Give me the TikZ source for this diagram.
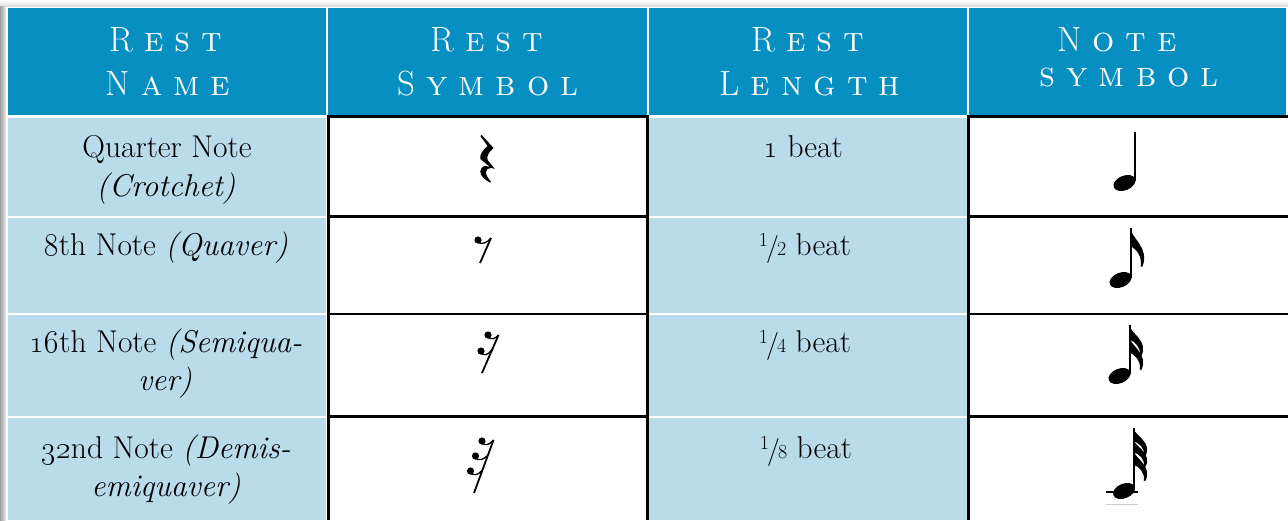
\documentclass[tikz,border=0pt]{standalone}
\usepackage{fix-cm}
\definecolor{hdrblue}{RGB}{6,143,192}
\definecolor{cellblue}{RGB}{185,219,234}
\newcommand\hsp{\kern 11pt}
\newcommand\frc[2]{\raisebox{9pt}{\fontsize{20}{20}\selectfont #1}\kern-2pt\raisebox{-1.5pt}{\fontsize{28}{28}\selectfont /}\kern-2pt{\fontsize{20}{20}\selectfont #2}}
\newcommand\osn[1]{\oldstylenums{#1}}
\tikzset{
  body/.style={font=\fontsize{31.5}{38}\selectfont, anchor=base, inner sep=0pt},
  hdr/.style={font=\fontsize{35}{35}\selectfont, text=white, anchor=base, inner sep=0pt},
  grid/.style={line width=2.2pt, black},
}
\newcommand\flag[3]{\begin{scope}[shift={(#1,#2)},yscale=#3]\fill (0,0) .. controls (1,10) and (20,20) .. (12,39) -- (10.5,38) .. controls (12,28) and (6,21) .. (0,18) -- cycle;\end{scope}}
\newcommand\nhead[2]{\fill[rotate around={22:(#1,#2)}] (#1,#2) ellipse [x radius=11.5, y radius=7.3];}
\begin{document}
\begin{tikzpicture}[x=1pt,y=-1pt]
\useasboundingbox (0,0) rectangle (1288,520);
\fill[white] (0,0) rectangle (1288,520);
% shadows
\shade[top color=white, bottom color=gray!25] (0,0) rectangle (1288,6);
\shade[left color=gray!75, right color=gray!20] (0,6) rectangle (5.5,520);
% header cells
\fill[hdrblue] (8,8) rectangle (326,115);
\fill[hdrblue] (328,8) rectangle (647,115);
\fill[hdrblue] (649,8) rectangle (967,115);
\fill[hdrblue] (969,8) rectangle (1286,115);
% blue body cells
\foreach \ya/\yb in {118/215.5, 217.5/313, 315/415.5, 417.5/520}{
  \fill[cellblue] (8,\ya) rectangle (326,\yb);
  \fill[cellblue] (649,\ya) rectangle (967,\yb);
}
% black grid for white cells
\foreach \xa/\xb in {328/648, 968/1290}{
  \foreach \y in {116.5, 216.5, 314, 416.5}{
    \draw[grid] (\xa-1,\y) -- (\xb+1,\y);
  }
}
\foreach \x in {328.5, 647.5, 968.5}{
  \draw[grid] (\x,115.5) -- (\x,520);
}
% header text
\node[hdr] (h1a) at (166,51) {R\hsp\scshape e\hsp s\hsp t};
\node[hdr] (h1b) at (168,95) {N\hsp\scshape a\hsp m\hsp e};
\node[hdr] (h2a) at (487,51) {R\hsp\scshape e\hsp s\hsp t};
\node[hdr] (h2b) at (488,95) {S\hsp\scshape y\hsp m\hsp b\hsp o\hsp l};
\node[hdr] (h3a) at (808,51) {R\hsp\scshape e\hsp s\hsp t};
\node[hdr] (h3b) at (810,95) {L\hsp\scshape e\hsp n\hsp g\hsp t\hsp h};
\node[hdr] (h4a) at (1117,51) {N\hsp\scshape o\hsp t\hsp e};
\node[hdr] (h4b) at (1129,86) {\scshape s\hsp y\hsp m\hsp b\hsp o\hsp l};
% column 1
\node[body] (n1a) at (167,157) {Quarter Note};
\node[body] (n1b) at (166,196) {\textit{(Crotchet)}};
\node[body] (n2a) at (166,255) {\osn{8}th Note \textit{(Quaver)}};
\node[body] (n3a) at (166,352) {\osn{16}th Note \textit{(Semiqua-}};
\node[body] (n3b) at (165,390) {\textit{ver)}};
\node[body] (n4a) at (166,458) {\osn{32}nd Note \textit{(Demis-}};
\node[body] (n4b) at (166,496) {\textit{emiquaver)}};
% column 3
\node[body] (l1) at (803,157) {\osn{1} beat};
\node[body] (l2) at (805,255) {\frc{1}{2} beat};
\node[body] (l3) at (805,352) {\frc{1}{4} beat};
\node[body] (l4) at (806,458) {\frc{1}{8} beat};
% quarter rest
\begin{scope}[shift={(478,135)}, xscale=1.2]
\fill (3,0) -- (13,13) .. controls (9,17) and (7,21) .. (8,25) -- (14,34)
  .. controls (9,31) and (4,35) .. (8,42) .. controls (9,44) and (10,46) .. (11,47)
  -- (10,47.5) .. controls (3,43) and (0,37) .. (3,33) .. controls (5,30) and (8,31) .. (10,32)
  -- (2,24) .. controls (1,20) and (4,15) .. (8,11) -- (2,1) -- cycle;
\end{scope}
% eighth rest
\fill (478,240) circle [radius=3.6];
\draw[line width=1.3pt] (477,242) .. controls (482,245) and (487,243) .. (491,238);
\draw[line width=1.8pt] (491,238) -- (480,263);
% sixteenth rest
\fill (488,335) circle [radius=3.6];
\fill (481,351) circle [radius=3.6];
\draw[line width=1.3pt] (487,337) .. controls (492,340) and (495,339) .. (498.5,335);
\draw[line width=1.3pt] (480,353) .. controls (485,356) and (488,355) .. (491.5,350);
\draw[line width=1.8pt] (498.5,335) -- (482,373);
% thirty-second rest
\fill (482,441) circle [radius=3.6];
\fill (475.5,456) circle [radius=3.6];
\fill (470.5,471) circle [radius=3.6];
\draw[line width=1.3pt] (481,443) .. controls (486,446) and (489,445) .. (493.5,440);
\draw[line width=1.3pt] (474.5,458) .. controls (479.5,461) and (483,460) .. (487.5,455.5);
\draw[line width=1.3pt] (469.5,473) .. controls (474.5,476) and (478,475) .. (482,470.5);
\draw[line width=1.8pt] (493.5,440) -- (474,493);
% note symbols
\nhead{1124.5}{183}
\draw[line width=1.6pt] (1135,132) -- (1135,181);
\nhead{1120.5}{280}
\draw[line width=1.6pt] (1131,228) -- (1131,278);
\flag{1130.2}{228}{1}
\nhead{1119.5}{376}
\draw[line width=1.6pt] (1130,325) -- (1130,374);
\flag{1129.2}{325}{0.8}
\flag{1129.2}{337}{0.85}
\draw[line width=1.5pt] (1106,492) -- (1138,492);
\draw[line width=0.8pt, gray!40] (1106,504) -- (1138,504);
\nhead{1124}{491}
\draw[line width=1.6pt] (1134,428) -- (1134,489);
\flag{1133.2}{428}{0.72}
\flag{1133.2}{439}{0.72}
\flag{1133.2}{450}{0.8}
\end{tikzpicture}
\end{document}
